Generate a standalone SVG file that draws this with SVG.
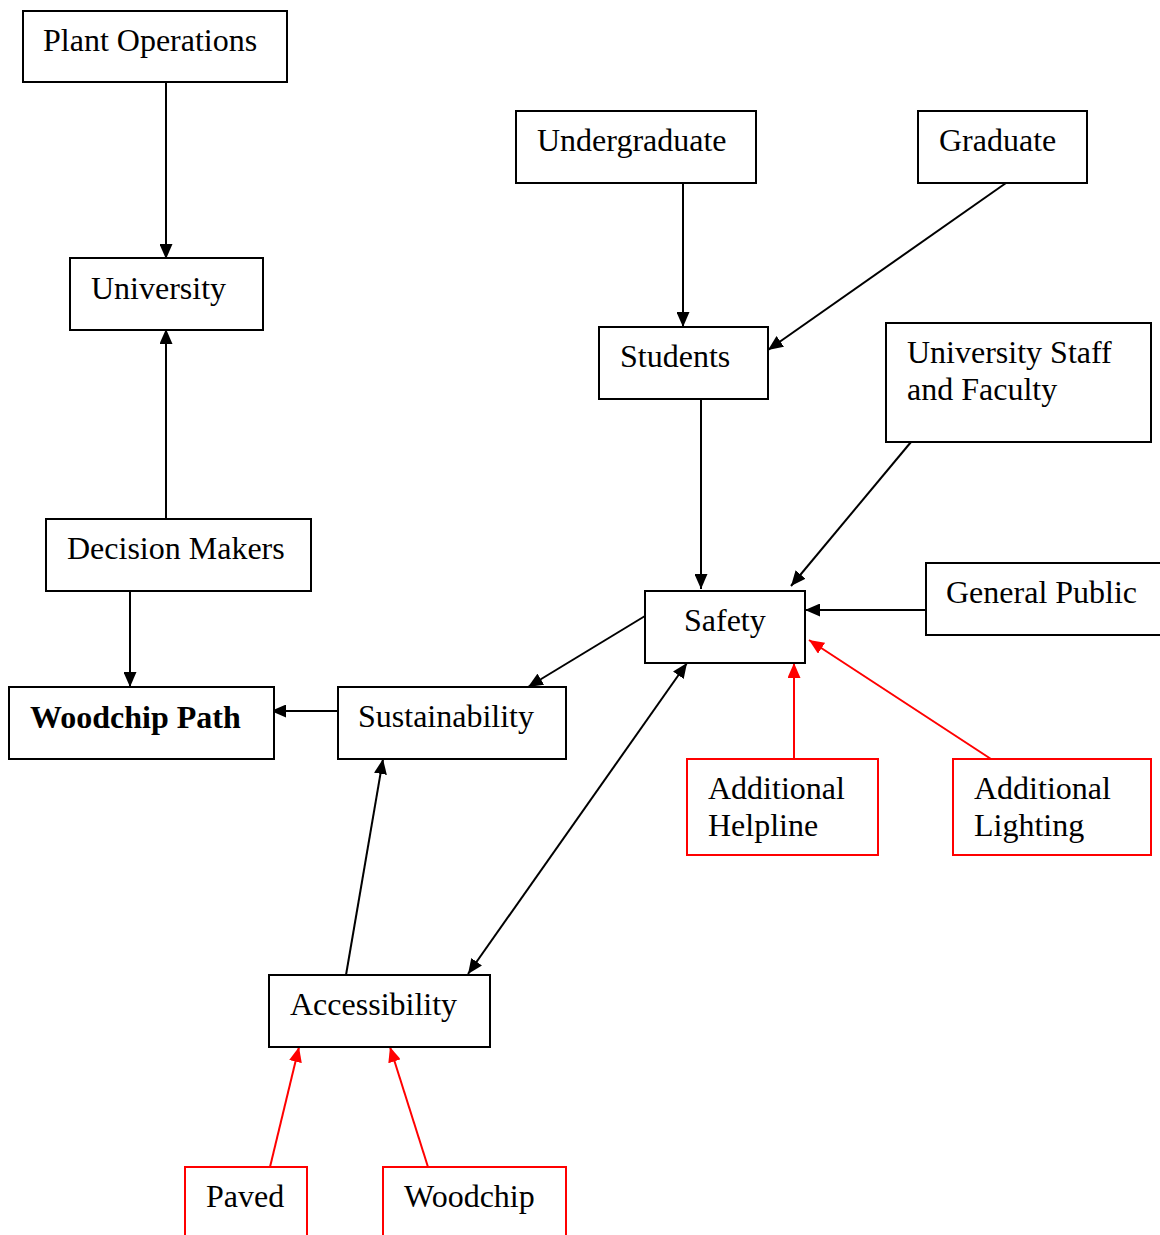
<svg xmlns="http://www.w3.org/2000/svg" width="1160" height="1235" viewBox="0 0 1160 1235">
<style>
.box{fill:#fff;stroke:#000;stroke-width:2}
.rbox{fill:#fff;stroke:#f00;stroke-width:2}
text{font-family:"Liberation Serif","Times New Roman",serif;font-size:32px;fill:#000}
.b{font-weight:bold}
.c{stroke:#000;stroke-width:2;fill:none}
.r{stroke:#f00;stroke-width:2;fill:none}
</style>
<defs>
<marker id="ab" viewBox="0 0 15 13" refX="15" refY="6.5" markerWidth="15" markerHeight="13" markerUnits="userSpaceOnUse" orient="auto-start-reverse"><path d="M0,0 L15,6.5 L0,13 z" fill="#000"/></marker>
<marker id="ar" viewBox="0 0 15 13" refX="15" refY="6.5" markerWidth="15" markerHeight="13" markerUnits="userSpaceOnUse" orient="auto"><path d="M0,0 L15,6.5 L0,13 z" fill="#f00"/></marker>
</defs>
<g id="connectors">
<line class="c" x1="166" y1="82" x2="166" y2="259" marker-end="url(#ab)"/>
<line class="c" x1="166" y1="519" x2="166" y2="329" marker-end="url(#ab)"/>
<line class="c" x1="683" y1="183" x2="683" y2="327" marker-end="url(#ab)"/>
<line class="c" x1="1006" y1="183" x2="768" y2="350" marker-end="url(#ab)"/>
<line class="c" x1="701" y1="399" x2="701" y2="589" marker-end="url(#ab)"/>
<line class="c" x1="911" y1="442" x2="791" y2="586" marker-end="url(#ab)"/>
<line class="c" x1="926" y1="610" x2="805" y2="610" marker-end="url(#ab)"/>
<line class="c" x1="645" y1="616" x2="528" y2="687" marker-end="url(#ab)"/>
<line class="c" x1="130" y1="591" x2="130" y2="687" marker-end="url(#ab)"/>
<line class="c" x1="338" y1="711" x2="271" y2="711" marker-end="url(#ab)"/>
<line class="c" x1="346" y1="975" x2="383" y2="759" marker-end="url(#ab)"/>
<line class="c" x1="468" y1="974" x2="687" y2="663" marker-start="url(#ab)" marker-end="url(#ab)"/>
<line class="r" x1="794" y1="759" x2="794" y2="663" marker-end="url(#ar)"/>
<line class="r" x1="991" y1="759" x2="809" y2="640" marker-end="url(#ar)"/>
<line class="r" x1="270" y1="1167" x2="299" y2="1047" marker-end="url(#ar)"/>
<line class="r" x1="428" y1="1167" x2="390" y2="1047" marker-end="url(#ar)"/>
</g>
<g id="plant-operations"><rect class="box" x="23" y="11" width="264" height="71"/><text x="43" y="51">Plant Operations</text></g>
<g id="university"><rect class="box" x="70" y="258" width="193" height="72"/><text x="91" y="299">University</text></g>
<g id="undergraduate"><rect class="box" x="516" y="111" width="240" height="72"/><text x="537" y="151">Undergraduate</text></g>
<g id="graduate"><rect class="box" x="918" y="111" width="169" height="72"/><text x="939" y="151">Graduate</text></g>
<g id="students"><rect class="box" x="599" y="327" width="169" height="72"/><text x="620" y="367">Students</text></g>
<g id="staff"><rect class="box" x="886" y="323" width="265" height="119"/><text x="907" y="363">University Staff</text><text x="907" y="400">and Faculty</text></g>
<g id="decision-makers"><rect class="box" x="46" y="519" width="265" height="72"/><text x="67" y="559">Decision Makers</text></g>
<g id="safety"><rect class="box" x="645" y="591" width="160" height="72"/><text x="684" y="631">Safety</text></g>
<g id="general-public"><rect class="box" x="926" y="563" width="250" height="72"/><text x="946" y="603">General Public</text></g>
<g id="woodchip-path"><rect class="box" x="9" y="687" width="265" height="72"/><text class="b" x="30" y="728">Woodchip Path</text></g>
<g id="sustainability"><rect class="box" x="338" y="687" width="228" height="72"/><text x="358" y="727">Sustainability</text></g>
<g id="helpline"><rect class="rbox" x="687" y="759" width="191" height="96"/><text x="708" y="799">Additional</text><text x="708" y="836">Helpline</text></g>
<g id="lighting"><rect class="rbox" x="953" y="759" width="198" height="96"/><text x="974" y="799">Additional</text><text x="974" y="836">Lighting</text></g>
<g id="accessibility"><rect class="box" x="269" y="975" width="221" height="72"/><text x="290" y="1015">Accessibility</text></g>
<g id="paved"><rect class="rbox" x="185" y="1167" width="122" height="100"/><text x="206" y="1207">Paved</text></g>
<g id="woodchip"><rect class="rbox" x="383" y="1167" width="183" height="100"/><text x="404" y="1207">Woodchip</text></g>
</svg>
